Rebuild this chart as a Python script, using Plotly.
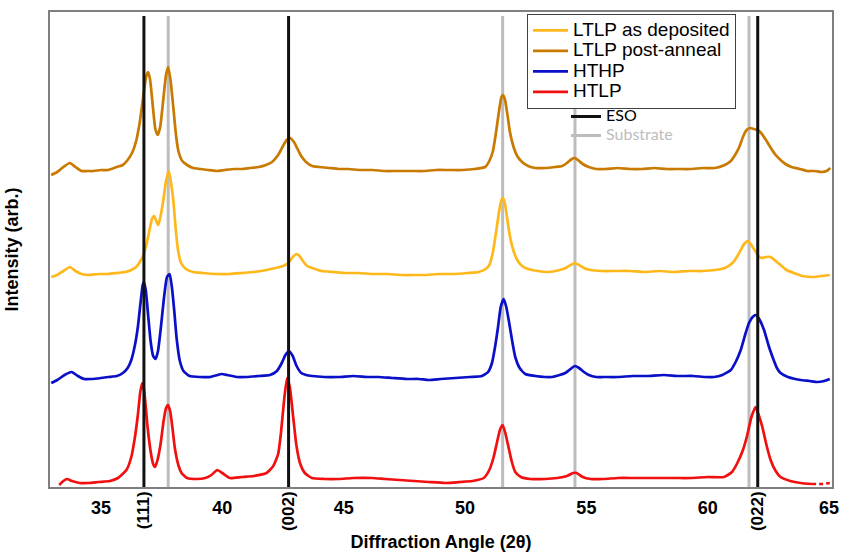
import plotly.graph_objects as go

# ---- data ----
ltlp_post_x = [32.95, 33.2, 33.45, 33.72, 33.95, 34.2, 34.45, 34.7, 35.0, 35.3, 35.65, 35.9, 36.1, 36.3, 36.45, 36.6, 36.74, 36.86, 36.94, 37.02, 37.12, 37.24, 37.34, 37.44, 37.57, 37.68, 37.77, 37.86, 37.98, 38.1, 38.2, 38.35, 38.55, 38.8, 39.1, 39.4, 39.76, 40.1, 40.5, 40.8, 41.14, 41.5, 41.8, 42.05, 42.3, 42.5, 42.65, 42.79, 42.95, 43.1, 43.25, 43.45, 43.7, 44.0, 44.4, 44.8, 45.2, 45.7, 46.2, 46.7, 47.2, 47.8, 48.3, 48.8, 49.3, 49.9, 50.4, 50.83, 51.0, 51.15, 51.28, 51.4, 51.5, 51.56, 51.64, 51.75, 51.85, 52.0, 52.15, 52.35, 52.6, 52.9, 53.3, 53.7, 54.0, 54.2, 54.4, 54.52, 54.65, 54.85, 55.1, 55.4, 55.8, 56.3, 56.8, 57.3, 57.8, 58.3, 58.8, 59.3, 59.8, 60.3, 60.7, 60.95, 61.15, 61.3, 61.45, 61.6, 61.75, 61.9, 62.05, 62.2, 62.4, 62.6, 62.8, 63.0, 63.2, 63.45, 63.8, 64.1, 64.4, 64.7, 64.9, 65.05]
ltlp_post_y = [312, 315, 320, 324, 320, 316, 316, 316, 317, 317, 320, 322, 327, 335, 346, 365, 390, 410, 415, 408, 385, 358, 352, 360, 388, 412, 420, 408, 380, 350, 335, 326, 322, 319, 318, 317, 316, 317, 318, 318, 319, 320, 322, 325, 332, 341, 347, 349, 345, 338, 331, 325, 321, 320, 319, 318, 318, 317, 317, 316, 316, 316, 316, 317, 317, 317, 318, 320, 326, 336, 355, 376, 390, 392, 388, 372, 355, 340, 331, 325, 321, 319, 319, 320, 321, 324, 328, 329, 327, 323, 320, 318, 318, 319, 318, 318, 319, 318, 318, 318, 319, 319, 322, 326, 333, 340, 350, 357, 359, 358, 357, 354, 347, 339, 332, 327, 323, 320, 318, 316, 316, 315, 316, 319]

ltlp_dep_x = [32.95, 33.2, 33.45, 33.72, 33.95, 34.2, 34.5, 34.9, 35.3, 35.65, 36.0, 36.25, 36.45, 36.6, 36.75, 36.88, 37.0, 37.1, 37.19, 37.28, 37.36, 37.45, 37.57, 37.68, 37.8, 37.9, 37.98, 38.08, 38.18, 38.3, 38.5, 38.8, 39.2, 39.76, 40.3, 40.8, 41.3, 41.82, 42.2, 42.5, 42.72, 42.9, 43.05, 43.18, 43.35, 43.5, 43.7, 44.1, 44.6, 45.07, 45.6, 46.2, 46.8, 47.4, 48.0, 48.37, 48.9, 49.5, 50.1, 50.56, 50.85, 51.0, 51.15, 51.28, 51.4, 51.5, 51.56, 51.64, 51.75, 51.88, 52.0, 52.15, 52.35, 52.6, 53.0, 53.44, 53.9, 54.15, 54.35, 54.52, 54.7, 54.9, 55.17, 55.6, 56.2, 56.8, 57.4, 58.0, 58.61, 59.2, 59.8, 60.3, 60.7, 61.02, 61.2, 61.36, 61.5, 61.66, 61.8, 61.98, 62.12, 62.25, 62.4, 62.59, 62.75, 63.0, 63.25, 63.55, 63.9, 64.37, 64.7, 65.03]
ltlp_dep_y = [210, 212, 216, 220, 216, 213, 212, 213, 213, 214, 215, 217, 220, 225, 232, 243, 257, 268, 271, 266, 262, 270, 287, 306, 316, 302, 287, 258, 236, 224, 218, 215, 214, 213, 213, 214, 215, 217, 219, 221, 224, 230, 233, 231, 225, 221, 219, 216, 215, 214, 214, 213, 213, 212, 212, 212, 213, 213, 214, 215, 218, 222, 235, 255, 275, 287, 289, 284, 266, 247, 236, 227, 221, 218, 216, 215, 217, 219, 222, 224, 222, 219, 217, 216, 216, 216, 215, 216, 215, 216, 216, 217, 219, 224, 230, 237, 243, 246, 242, 235, 230, 229, 230, 230, 227, 222, 217, 214, 211, 210, 211, 212]

hthp_x = [32.95, 33.2, 33.5, 33.79, 34.05, 34.3, 34.6, 35.0, 35.3, 35.65, 35.9, 36.1, 36.25, 36.4, 36.52, 36.62, 36.72, 36.77, 36.85, 36.95, 37.05, 37.15, 37.25, 37.35, 37.47, 37.6, 37.72, 37.83, 37.92, 38.02, 38.12, 38.25, 38.4, 38.65, 39.08, 39.5, 39.8, 39.97, 40.2, 40.59, 41.0, 41.5, 41.96, 42.25, 42.45, 42.6, 42.75, 42.9, 43.06, 43.25, 43.45, 43.7, 44.2, 44.8, 45.4, 46.0, 46.44, 47.0, 47.6, 48.1, 48.5, 49.0, 49.6, 50.2, 50.7, 50.95, 51.11, 51.25, 51.36, 51.47, 51.59, 51.7, 51.82, 51.95, 52.07, 52.25, 52.48, 52.9, 53.3, 53.58, 53.9, 54.13, 54.35, 54.52, 54.7, 54.9, 55.1, 55.4, 55.72, 56.3, 56.9, 57.5, 58.19, 58.8, 59.4, 59.9, 60.26, 60.6, 60.95, 61.15, 61.36, 61.55, 61.7, 61.85, 61.99, 62.12, 62.32, 62.5, 62.67, 62.85, 63.0, 63.3, 63.6, 63.83, 64.2, 64.51, 64.8, 65.03]
hthp_y = [104, 107, 112, 115, 111, 108, 108, 109, 110, 111, 114, 119, 127, 142, 160, 182, 202, 205, 196, 170, 145, 131, 128, 136, 160, 190, 210, 213, 200, 176, 148, 126, 116, 111, 110, 110, 112, 113, 112, 110, 110, 111, 112, 116, 124, 132, 136, 131, 121, 114, 112, 111, 110, 110, 111, 110, 110, 109, 108, 108, 107, 108, 109, 110, 111, 115, 124, 142, 160, 180, 188, 180, 164, 145, 130, 119, 113, 111, 110, 110, 112, 114, 118, 121, 119, 115, 112, 110, 110, 110, 111, 111, 112, 111, 111, 110, 110, 112, 117, 125, 137, 153, 164, 170, 172, 168, 157, 142, 130, 119, 114, 110, 108, 107, 106, 105, 106, 108]

htlp_x = [33.28, 33.45, 33.6, 33.8, 34.13, 34.5, 34.9, 35.37, 35.7, 36.05, 36.25, 36.4, 36.52, 36.62, 36.7, 36.78, 36.92, 37.05, 37.15, 37.23, 37.33, 37.45, 37.58, 37.68, 37.76, 37.85, 37.95, 38.05, 38.2, 38.32, 38.55, 38.94, 39.3, 39.55, 39.79, 40.0, 40.31, 40.8, 41.3, 41.82, 42.1, 42.3, 42.42, 42.55, 42.67, 42.78, 42.92, 43.05, 43.2, 43.4, 43.69, 44.2, 44.8, 45.4, 46.17, 46.7, 47.3, 47.9, 48.5, 49.19, 49.8, 50.3, 50.77, 51.0, 51.18, 51.32, 51.45, 51.55, 51.65, 51.79, 51.93, 52.07, 52.3, 52.7, 53.3, 53.8, 54.2, 54.45, 54.6, 54.85, 55.17, 55.7, 56.3, 57.0, 57.7, 58.61, 59.3, 60.0, 60.67, 61.0, 61.22, 61.45, 61.63, 61.8, 61.97, 62.1, 62.25, 62.42, 62.59, 62.8, 63.0, 63.4, 63.83, 64.3]
htlp_y = [2, 6, 8, 6, 4, 4, 5, 6, 9, 17, 30, 50, 72, 95, 104, 96, 60, 35, 23, 20, 27, 42, 66, 79, 82, 76, 58, 38, 21, 14, 9, 8, 9, 12, 17, 14, 9, 10, 11, 14, 21, 33, 55, 88, 109, 100, 70, 42, 24, 14, 9, 8, 8, 9, 9, 8, 7, 6, 5, 4, 5, 6, 9, 17, 30, 45, 58, 62, 55, 40, 25, 15, 10, 8, 8, 9, 11, 14, 14, 10, 8, 8, 9, 9, 9, 9, 9, 10, 10, 15, 24, 37, 52, 70, 80, 72, 60, 42, 27, 16, 10, 6, 4, 3]
# dashed tail of the HTLP scan
htlp_tail_x = [64.3, 64.7, 65.03]
htlp_tail_y = [3, 3, 4]

eso_peaks = [36.77, 42.73, 62.06]
eso_labels = ["(111)", "(002)", "(022)"]
substrate_peaks = [37.77, 51.55, 54.53, 61.70]
x_ticks = [35, 40, 45, 50, 55, 60, 65]
x_range = [32.9, 65.12]
y_range = [0, 475]

series = [
    ("LTLP as deposited", ltlp_dep_x, ltlp_dep_y, "#FFB81C"),
    ("LTLP post-anneal", ltlp_post_x, ltlp_post_y, "#C97A00"),
    ("HTHP", hthp_x, hthp_y, "#0A10C8"),
    ("HTLP", htlp_x, htlp_y, "#F01010"),
]


def vlines(positions):
    xs, ys = [], []
    for p in positions:
        xs += [p, p, None]
        ys += [y_range[0], y_range[1] - 4, None]
    return xs, ys


def big(txt, size, color=None):
    style = "font-size:%dpx" % size
    if color:
        style += ";color:%s" % color
    return "<span style='%s'>%s</span>" % (style, txt)


fig = go.Figure()

sx, sy = vlines(substrate_peaks)
fig.add_trace(go.Scatter(x=sx, y=sy, mode="lines", name=big("Substrate", 16, "#BDBDBD"),
                         line=dict(color="#BDBDBD", width=3), legend="legend2", legendrank=2,
                         hoverinfo="skip"))

for name, xs, ys, col in series:
    fig.add_trace(go.Scatter(x=xs, y=ys, mode="lines", name=big(name, 19),
                             line=dict(color=col, width=2.7, shape="spline", smoothing=0.5)))

fig.add_trace(go.Scatter(x=htlp_tail_x, y=htlp_tail_y, mode="lines", showlegend=False,
                         line=dict(color="#F01010", width=2.7, dash="4px,3px"), hoverinfo="skip"))

ex, ey = vlines(eso_peaks)
fig.add_trace(go.Scatter(x=ex, y=ey, mode="lines", name=big("ESO", 16),
                         line=dict(color="#111111", width=3), legend="legend2", legendrank=1,
                         hoverinfo="skip"))

# invisible trace on xaxis2 so the rotated (hkl) labels axis is drawn
fig.add_trace(go.Scatter(x=[x_range[0]], y=[0], xaxis="x2", mode="markers",
                         marker=dict(opacity=0), showlegend=False, hoverinfo="skip"))

fig.update_layout(
    width=841, height=556,
    margin=dict(l=50, r=9, t=12, b=69, autoexpand=False),
    paper_bgcolor="white", plot_bgcolor="white",
    font=dict(family="Liberation Sans, Arial, sans-serif", color="black"),
    xaxis=dict(range=x_range, tickvals=x_ticks, ticktext=[str(t) for t in x_ticks],
               showgrid=False, zeroline=False, ticks="", automargin=False, ticklabelstandoff=4,
               tickfont=dict(size=18, family="Liberation Sans, Arial", color="black", weight="bold"),
               showline=True, linecolor="#7F7F7F", linewidth=1.5, mirror=True,
               title=dict(text="<b>Diffraction Angle (2θ)</b>", font=dict(size=18), standoff=18)),
    xaxis2=dict(range=x_range, overlaying="x", side="bottom", anchor="y", automargin=False,
                tickvals=eso_peaks, ticktext=eso_labels, tickangle=-90,
                showgrid=False, zeroline=False, showline=False, ticks="",
                tickfont=dict(size=17, family="Liberation Sans, Arial", color="black", weight="bold")),
    yaxis=dict(range=y_range, showticklabels=False, showgrid=False, zeroline=False, ticks="",
               automargin=False,
               showline=True, linecolor="#7F7F7F", linewidth=1.5, mirror=True,
               title=dict(text="<b>Intensity (arb.)</b>", font=dict(size=18), standoff=25)),
    legend=dict(x=(527 - 50) / 782, y=(487 - 14) / 475, xanchor="left", yanchor="top",
                bgcolor="white", bordercolor="#404040", borderwidth=1,
                font=dict(size=13.5, family="Liberation Sans, Arial", color="black"),
                tracegroupgap=0, itemwidth=35),
    legend2=dict(x=(566 - 50) / 782, y=(487 - 102) / 475, xanchor="left", yanchor="top",
                 bgcolor="rgba(0,0,0,0)", borderwidth=0,
                 font=dict(size=11, family="Lato, Carlito, sans-serif", color="black"),
                 itemwidth=30),
    showlegend=True,
)

fig.write_html("out.html")
